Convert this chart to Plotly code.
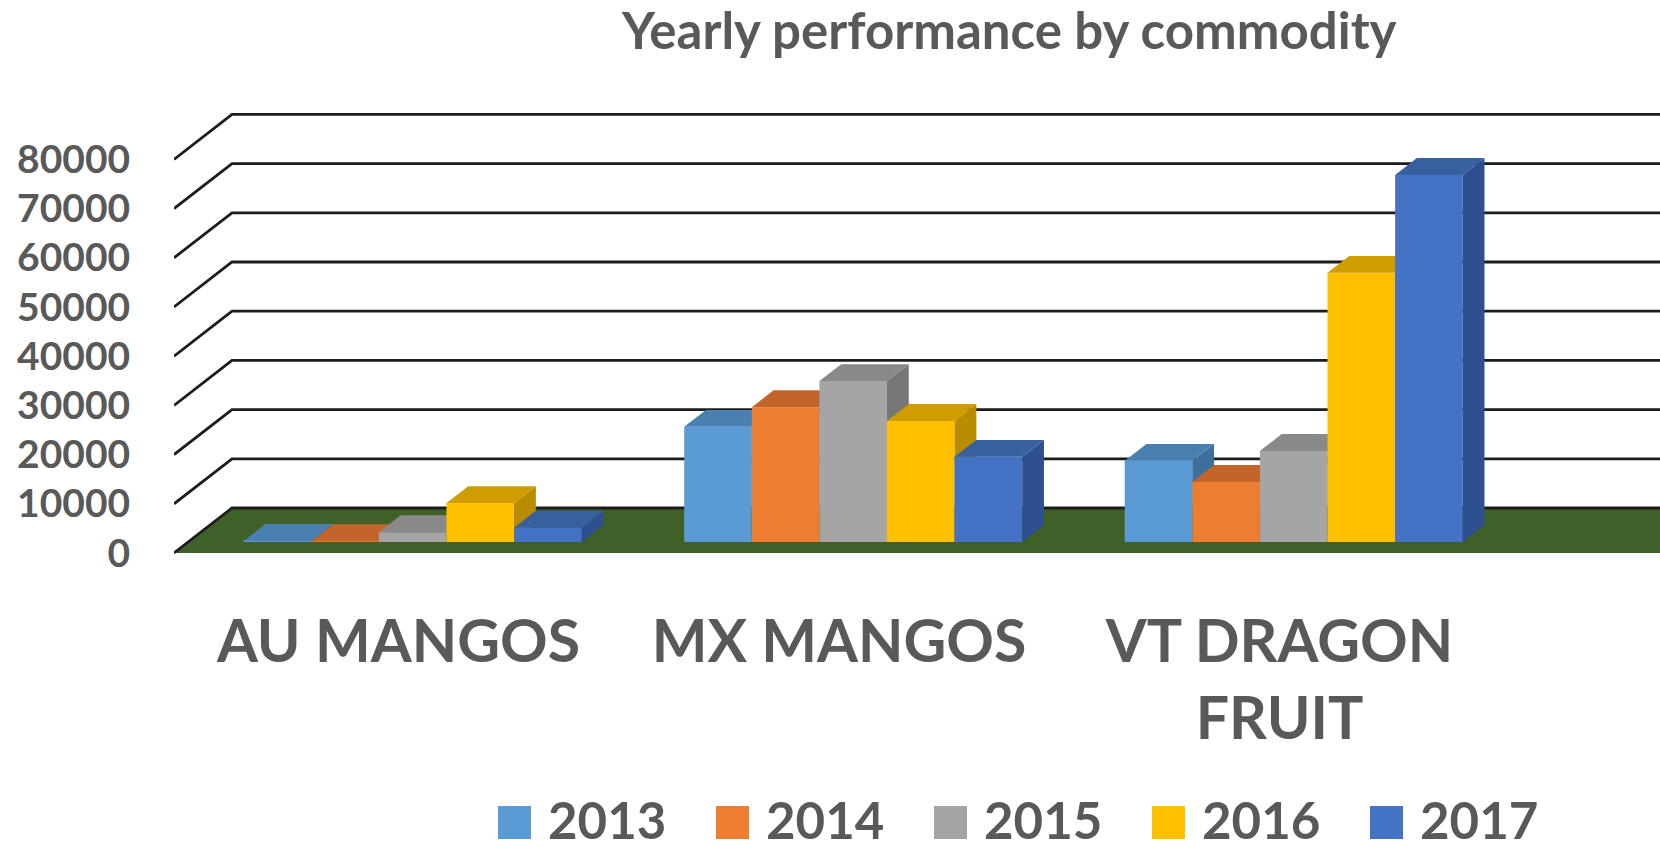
import plotly.graph_objects as go

# ---------------- data ----------------
categories = ["AU MANGOS", "MX MANGOS", "VT DRAGON FRUIT"]
years = ["2013", "2014", "2015", "2016", "2017"]
values_2013 = [200, 23400, 16500]
values_2014 = [150, 27400, 12200]
values_2015 = [2000, 32700, 18500]
values_2016 = [7900, 24600, 54700]
values_2017 = [2900, 17300, 74600]
y_ticks = [0, 10000, 20000, 30000, 40000, 50000, 60000, 70000, 80000]
y_tick_labels = [str(v) for v in y_ticks]
title_text = "Yearly performance by commodity"

series = [values_2013, values_2014, values_2015, values_2016, values_2017]

# ---------------- styles ----------------
front_colors = ["#5B9BD5", "#ED7D31", "#A5A5A5", "#FFC000", "#4472C4"]
top_colors = ["#4A7FB1", "#C3652A", "#898989", "#D09D00", "#37609F"]
side_colors = ["#3E6E9C", "#AE5923", "#777777", "#B98C00", "#2E5090"]
floor_color = "#3F6127"
grid_color = "#1C1C1C"
text_color = "#595959"
FONT = "Lato"

# ---------------- geometry (pixels) ----------------
W, H = 1660, 852
PLOT_L, PLOT_R = 174, 1660
PLOT_T, PLOT_B = 95, 560
CAT0_PX, CAT_STEP_PX = 398.5, 440.5
ZERO_PX, PX_PER_Y = 553.0, 49.2 / 10000
DEPTH_DX, DEPTH_DY = 58.0, 45.0
BAR_FRONT, BAR_DEPTH = 0.245, 0.375
BAR_W_PX = 67.6

x_lo = (PLOT_L - CAT0_PX) / CAT_STEP_PX
x_hi = (PLOT_R - CAT0_PX) / CAT_STEP_PX
y_lo = (ZERO_PX - PLOT_B) / PX_PER_Y
y_hi = (ZERO_PX - PLOT_T) / PX_PER_Y
dx = DEPTH_DX / CAT_STEP_PX
dy = DEPTH_DY / PX_PER_Y
bw = BAR_W_PX / CAT_STEP_PX


def paper_x(px):
    return (px - PLOT_L) / (PLOT_R - PLOT_L)


def paper_y(py):
    return (PLOT_B - py) / (PLOT_B - PLOT_T)


fig = go.Figure()

# floor
fig.add_trace(go.Scatter(
    x=[x_lo, x_hi + dx, x_hi + dx, x_lo + dx, x_lo],
    y=[0, 0, dy, dy, 0],
    fill="toself", fillcolor=floor_color, mode="lines",
    line=dict(width=0), hoverinfo="skip", showlegend=False, yaxis="y"))

# back wall / side wall gridlines
gx, gy = [], []
for t in y_ticks:
    gx += [x_lo, x_lo + dx, x_hi + dx, None]
    gy += [t, t + dy, t + dy, None]
fig.add_trace(go.Scatter(
    x=gx, y=gy, mode="lines", line=dict(color=grid_color, width=2.8),
    hoverinfo="skip", showlegend=False, yaxis="y"))

# bars (each year on its own overlaid axis so that painter order is kept)
base0 = BAR_FRONT * dy
sdx, sdy = BAR_DEPTH * dx, BAR_DEPTH * dy
for i, vals in enumerate(series):
    ax = "y%d" % (i + 2)
    xs = [g + BAR_FRONT * dx + (i - 2) * bw for g in range(len(categories))]
    fig.add_trace(go.Bar(
        x=xs, y=vals, base=base0, width=bw, name=years[i],
        marker=dict(color=front_colors[i], line=dict(width=0)),
        showlegend=False, yaxis=ax, hoverinfo="y"))
    tx, ty, sx, sy = [], [], [], []
    for xc, v in zip(xs, vals):
        x0, x1 = xc - bw / 2, xc + bw / 2
        yt = base0 + v
        tx += [x0, x1, x1 + sdx, x0 + sdx, x0, None]
        ty += [yt, yt, yt + sdy, yt + sdy, yt, None]
        sx += [x1, x1, x1 + sdx, x1 + sdx, x1, None]
        sy += [base0, yt, yt + sdy, base0 + sdy, base0, None]
    fig.add_trace(go.Scatter(
        x=sx, y=sy, fill="toself", fillcolor=side_colors[i], mode="lines",
        line=dict(width=0), hoverinfo="skip", showlegend=False, yaxis=ax))
    fig.add_trace(go.Scatter(
        x=tx, y=ty, fill="toself", fillcolor=top_colors[i], mode="lines",
        line=dict(width=0), hoverinfo="skip", showlegend=False, yaxis=ax))

cat_labels = ["VT DRAGON<br>FRUIT" if c == "VT DRAGON FRUIT" else c for c in categories]

layout_axes = dict(
    xaxis=dict(range=[x_lo, x_hi], tickvals=list(range(len(categories))),
               ticktext=cat_labels, ticks="outside", ticklen=30,
               tickcolor="rgba(0,0,0,0)", showgrid=False, zeroline=False,
               showline=False, fixedrange=True,
               tickfont=dict(family=FONT, size=59, color=text_color, weight="bold")),
    yaxis=dict(range=[y_lo, y_hi], tickvals=y_ticks, ticktext=y_tick_labels,
               ticks="outside", ticklen=35, tickcolor="rgba(0,0,0,0)",
               showgrid=False, zeroline=False, showline=False, fixedrange=True,
               tickfont=dict(family=FONT, size=39, color=text_color, weight="bold")),
)
for i in range(len(series)):
    layout_axes["yaxis%d" % (i + 2)] = dict(
        range=[y_lo, y_hi], overlaying="y", visible=False, fixedrange=True)

# title
annotations = [dict(
    text=title_text, xref="paper", yref="paper",
    x=paper_x(1009), y=paper_y(29), xanchor="center", yanchor="middle",
    showarrow=False,
    font=dict(family=FONT, size=51, color=text_color, weight="bold"))]

# legend
shapes = []
LEG_X0, LEG_STEP, SW = 498, 218, 33
LEG_Y0 = 806
for i, yr in enumerate(years):
    lx = LEG_X0 + i * LEG_STEP
    shapes.append(dict(type="rect", xref="paper", yref="paper",
                       x0=paper_x(lx), x1=paper_x(lx + SW),
                       y0=paper_y(LEG_Y0 + SW), y1=paper_y(LEG_Y0),
                       fillcolor=front_colors[i], line=dict(width=0)))
    annotations.append(dict(
        text=yr, xref="paper", yref="paper", x=paper_x(lx + 48),
        y=paper_y(LEG_Y0 + SW / 2 - 3), xanchor="left", yanchor="middle",
        showarrow=False,
        font=dict(family=FONT, size=51, color=text_color, weight="bold")))

fig.update_layout(
    width=W, height=H, autosize=False,
    margin=dict(l=PLOT_L, r=W - PLOT_R, t=PLOT_T, b=H - PLOT_B, pad=0),
    paper_bgcolor="white", plot_bgcolor="white",
    barmode="overlay", showlegend=False,
    annotations=annotations, shapes=shapes,
    **layout_axes)

fig.write_html(
    "out.html",
    config={"displayModeBar": False},
    post_script="document.body.style.margin='0';document.body.style.overflow='hidden';")
